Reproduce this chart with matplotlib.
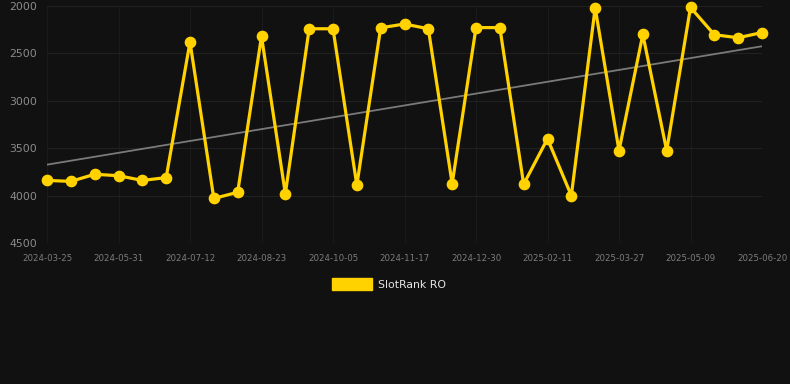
import numpy as np
import matplotlib
matplotlib.use('Agg')
import matplotlib.pyplot as plt
from matplotlib.patches import Rectangle

# 数据
ranks = [3840, 3850, 3775, 3790, 3840, 3810, 2380, 4030, 3965, 2320,
         3980, 2240, 2240, 3890, 2230, 2190, 2240, 3875, 2228, 2228,
         3880, 3400, 4000, 2020, 3525, 2300, 3525, 2015, 2303, 2335, 2280]
tick_labels = ['2024-03-25', '2024-05-31', '2024-07-12', '2024-08-23', '2024-10-05',
               '2024-11-17', '2024-12-30', '2025-02-11', '2025-03-27', '2025-05-09',
               '2025-06-20']
y_ticks = [2000, 2500, 3000, 3500, 4000, 4500]
series_name = 'SlotRank RO'

BG = '#111111'
GOLD = '#ffd200'

fig = plt.figure(figsize=(7.9, 3.84), dpi=100, facecolor=BG)
ax = fig.add_axes([47 / 790, 1 - 243 / 384, (762 - 47) / 790, (243 - 6) / 384])
ax.set_facecolor(BG)

x = np.arange(len(ranks))

# 趋势线（线性回归）
k, b = np.polyfit(x, ranks, 1)
ax.plot([x[0], x[-1]], [k * x[0] + b, k * x[-1] + b], color='#7a7a7a', linewidth=1.3, zorder=2)

ax.plot(x, ranks, color=GOLD, linewidth=2.3, marker='o', markersize=7.4, zorder=3,
        clip_on=False)

ax.set_xlim(0, len(ranks) - 1)
ax.set_ylim(4500, 2000)
ax.set_yticks(y_ticks)
ax.set_xticks(x[::3])
ax.set_xticklabels(tick_labels)

ax.grid(True, axis='y', color='#212121', linewidth=0.8)
ax.grid(True, axis='x', color='#1a1a1a', linewidth=0.8)
for s in ax.spines.values():
    s.set_visible(False)
ax.tick_params(axis='y', length=0, labelsize=7.8, labelcolor='#8c8c8c', pad=7)
ax.tick_params(axis='x', length=0, labelsize=6.2, labelcolor='#7c7c7c', pad=8)
ax.axhline(4500, color='#2a2a2a', linewidth=0.8)

# 图例
fig.patches.append(Rectangle((332 / 790, 1 - 290 / 384), 40 / 790, 12 / 384,
                             transform=fig.transFigure, color=GOLD))
fig.text(378 / 790, 1 - 284.5 / 384, series_name, color='#e6e6e6', fontsize=7.8,
         va='center', ha='left')

fig.savefig('out.png', dpi=100, facecolor=BG)
